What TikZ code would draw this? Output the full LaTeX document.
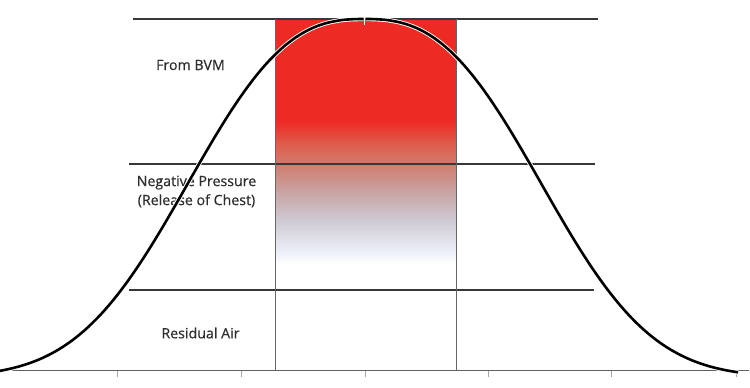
\documentclass[tikz,border=0pt]{standalone}
\usepackage{fontspec}
\setmainfont[FakeBold=0.5]{Open Sans}
\usepackage{tikz}
\usetikzlibrary{positioning}

\definecolor{bvmred}{RGB}{238,42,36}
\definecolor{fadeA}{RGB}{255,255,255}
\definecolor{fadeB}{RGB}{236,239,247}
\definecolor{fadeC}{RGB}{208,204,214}
\definecolor{fadeD}{RGB}{200,168,168}
\definecolor{fadeE}{RGB}{208,124,110}
\definecolor{fadeF}{RGB}{222,94,76}
\definecolor{labelgray}{RGB}{45,45,45}

% red fading into white, 25bp..75bp covers the box
\pgfdeclareverticalshading{bvmfade}{100bp}{color(0bp)=(fadeA); color(25bp)=(fadeA);
  color(27.5bp)=(fadeB); color(33.6bp)=(fadeC); color(39.1bp)=(fadeD);
  color(45.3bp)=(fadeE); color(49.4bp)=(fadeF); color(54.1bp)=(bvmred);
  color(75bp)=(bvmred); color(100bp)=(bvmred)}

\tikzset{
  level/.style={line width=1.5pt,draw=black!78},
  bound/.style={line width=1.2pt,draw=black!60},
  axisline/.style={line width=1.4pt,draw=black!62},
  tick/.style={line width=0.6pt,draw=black!35},
  halo/.style={line width=4.4pt,draw=white},
  bell/.style={line width=2.6pt,draw=black},
  label/.style={font=\fontsize{14.2}{19}\selectfont,text=labelgray,align=center,inner sep=0pt}
}

\newcommand{\bellY}[1]{371-358*(exp(-(abs(#1-364.5)/213)^2.6)-0.017)}

\begin{document}
\begin{tikzpicture}[x=1pt,y=-1pt]
\useasboundingbox (0,0) rectangle (750,388);

% BVM volume box
\shade[shading=bvmfade] (275.5,19) rectangle (456.5,264);
\fill[bvmred] (275.5,19) rectangle (456.5,120);

% levels
\draw[level] (133,19) -- (598,19);
\draw[level] (129,164) -- (595,164);
\draw[level] (129,290) -- (594,290);
\draw[bound] (275.5,19) -- (275.5,370.5);
\draw[bound] (456.5,19) -- (456.5,370.5);

% base line with ticks
\draw[axisline] (12,370.5) -- (749,370.5);
\foreach \t in {117,241,365,488,611,736}
  \draw[tick] (\t,371) -- (\t,377);

% labels
\node[label] (frombvm) at (190.5,65) {From BVM};
\node[label] (negpress) at (196.5,191.5) {Negative Pressure\\(Release of Chest)};
\node[label] (residual) at (200.5,333) {Residual Air};

% breath curve
\draw[halo] plot[domain=0:363.5,samples=140,smooth] (\x,{\bellY{\x}});
\draw[halo] plot[domain=365.5:738,samples=140,smooth] (\x,{\bellY{\x}});
\draw[bell] plot[domain=0:363.5,samples=140,smooth] (\x,{\bellY{\x}});
\draw[bell] plot[domain=365.5:738,samples=140,smooth] (\x,{\bellY{\x}});
\draw[white,line width=1.6pt] (364.5,14) -- (364.5,25);

\end{tikzpicture}
\end{document}
